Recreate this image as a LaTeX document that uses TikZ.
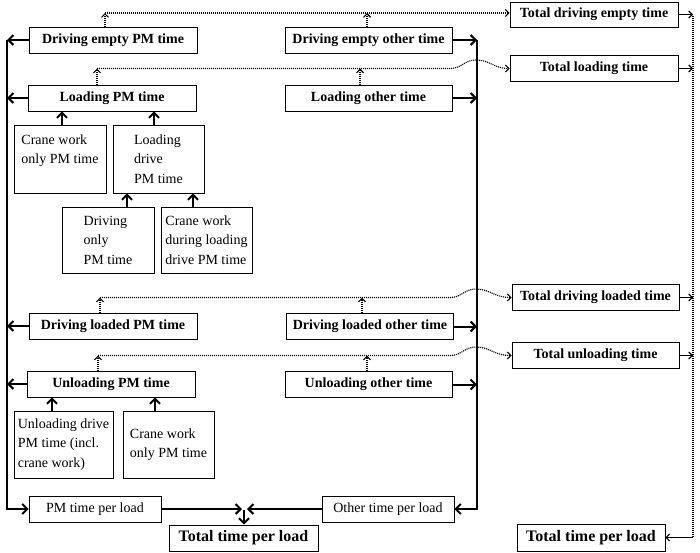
\documentclass[tikz,border=0pt]{standalone}
\usepackage{fontspec}
\setmainfont{Liberation Serif}
\usetikzlibrary{arrows.meta}
\begin{document}
\begin{tikzpicture}[x=1pt,y=-1pt,
 box/.style={draw,line width=0.8pt,inner sep=0pt,font=\fontsize{14}{19.5}\selectfont,align=left},
 bbox/.style={box,font=\fontsize{14}{19.5}\selectfont\bfseries,minimum height=26pt,align=center},
 big/.style={bbox,font=\fontsize{16}{19.5}\selectfont\bfseries},
 conn/.style={line width=2pt,-{Straight Barb[length=5pt,width=10pt]}},
 dots/.style={line width=1.1pt,dash pattern=on 1.1pt off 0.9pt,-{Straight Barb[length=3.5pt,width=7pt]}}]
\useasboundingbox (0,0) rectangle (700,552);
\fill[white] (0,0) rectangle (700,552);
% top boxes
\node[bbox,minimum width=168pt] (dePM) at (113,40) {Driving empty PM time};
\node[bbox,minimum width=167pt] (deO) at (368.5,40) {Driving empty other time};
\node[bbox,minimum width=168pt,minimum height=25pt] (tde) at (594,14.5) {Total driving empty time};
\node[bbox,minimum width=168pt] (lPM) at (112,98) {Loading PM time};
\node[bbox,minimum width=167pt] (lO) at (368.5,98) {Loading other time};
\node[bbox,minimum width=168pt] (tl) at (594,68.5) {Total loading time};
\node[box,minimum width=92pt,minimum height=68pt] (cw1) at (60,159) {Crane work\\only PM time\\\mbox{}};
\node[box,minimum width=91pt,minimum height=68pt] (ld) at (158.5,159) {Loading\\drive\\PM time};
\node[box,minimum width=92pt,minimum height=66pt] (do) at (108,240) {Driving\\only\\PM time};
\node[box,minimum width=91pt,minimum height=66pt] (cwd) at (206.5,240) {Crane work\\during loading\\drive PM time};
% lower boxes
\node[bbox,minimum width=168pt] (dlPM) at (113,326) {Driving loaded PM time};
\node[bbox,minimum width=167pt] (dlO) at (370,326.5) {Driving loaded other time};
\node[bbox,minimum width=167pt] (tdl) at (595.5,297.5) {Total driving loaded time};
\node[bbox,minimum width=168pt] (uPM) at (111,384) {Unloading PM time};
\node[bbox,minimum width=167pt] (uO) at (368.5,384.5) {Unloading other time};
\node[bbox,minimum width=167pt] (tu) at (595.5,355.5) {Total unloading time};
\node[box,minimum width=99pt,minimum height=67pt] (ud) at (63.5,444.5) {Unloading drive\\PM time (incl.\\crane work)};
\node[box,minimum width=91pt,minimum height=67pt] (cw2) at (168.5,444.5) {Crane work\\only PM time};
\node[box,minimum width=132pt,minimum height=26pt] (pm) at (95,509) {PM time per load};
\node[box,minimum width=132pt,minimum height=26pt] (ot) at (388,509) {Other time per load};
\node[big,minimum width=149pt] (tt1) at (243.5,538) {Total time per load};
\node[big,minimum width=148pt,minimum height=27pt] (tt2) at (591,537.5) {Total time per load};
% coordinates
\coordinate (L) at (7,0);
\coordinate (R) at (477,0);
\coordinate (V) at (693,0);
\coordinate (Ja) at (242,509);
\coordinate (Jb) at (247,509);
\coordinate (Jc) at (244,510);
\coordinate (D1) at (105,13);
\coordinate (D2) at (97,68.5);
\coordinate (D3) at (100,297.5);
\coordinate (D4) at (98,355.5);
% main solid lines
\draw[conn] (L |- dePM.west) -- (L |- pm.west) -- (pm.west);
\draw[conn] (R |- deO.east) -- (R |- ot.east) -- (ot.east);
\foreach \n in {dePM,lPM,dlPM,uPM} \draw[conn] (\n.west) -- (\n.west -| L);
\foreach \n in {deO,lO,dlO,uO} \draw[conn] (\n.east) -- (\n.east -| R);
\draw[conn] (pm.east) -- (Ja);
\draw[conn] (ot.west) -- (Jb);
\draw[conn] (Jc) -- (Jc |- tt1.north);
% child arrows
\draw[conn] ([xshift=2pt]cw1.north) -- ([xshift=2pt]cw1.north |- lPM.south);
\draw[conn] ([xshift=-4.5pt]ld.north) -- ([xshift=-4.5pt]ld.north |- lPM.south);
\draw[conn] ([xshift=19pt]do.north) -- ([xshift=19pt]do.north |- ld.south);
\draw[conn] ([xshift=-13.5pt]cwd.north) -- ([xshift=-13.5pt]cwd.north |- ld.south);
\draw[conn] ([xshift=-11.5pt]ud.north) -- ([xshift=-11.5pt]ud.north |- uPM.south);
\draw[conn] ([xshift=-13.5pt]cw2.north) -- ([xshift=-13.5pt]cw2.north |- uPM.south);
% dotted
\draw[dots] (dePM.north -| D1) -- (D1);
\draw[dots] ([xshift=-1.5pt]deO.north) -- ([xshift=-1.5pt]deO.north |- D1);
\draw[dots] (D1) -- (D1 -| tde.west);
\draw[dots] (lPM.north -| D2) -- (D2);
\draw[dots] ([xshift=-8.5pt]lO.north) -- ([xshift=-8.5pt]lO.north |- D2);
\draw[dots] (D2) -- (450,68.5) .. controls (462,68.5) and (464,60) .. (476,60) .. controls (490,60) and (494,68.5) .. (tl.west);
\draw[dots] (dlPM.north -| D3) -- (D3);
\draw[dots] ([xshift=-8pt]dlO.north) -- ([xshift=-8pt]dlO.north |- D3);
\draw[dots] (D3) -- (450,297.5) .. controls (462,297.5) and (464,289) .. (476,289) .. controls (490,289) and (494,297.5) .. (tdl.west);
\draw[dots] (uPM.north -| D4) -- (D4);
\draw[dots] ([xshift=-1.5pt]uO.north) -- ([xshift=-1.5pt]uO.north |- D4);
\draw[dots] (D4) -- (450,355.5) .. controls (462,355.5) and (464,347) .. (476,347) .. controls (490,347) and (494,355.5) .. (tu.west);
\foreach \n in {tde,tl,tdl,tu} \draw[dots] (\n.east) -- (\n.east -| V);
\draw[dots] ([yshift=-1.5pt]V |- tde.east) -- (V |- tt2.east) -- (tt2.east);
\end{tikzpicture}
\end{document}
